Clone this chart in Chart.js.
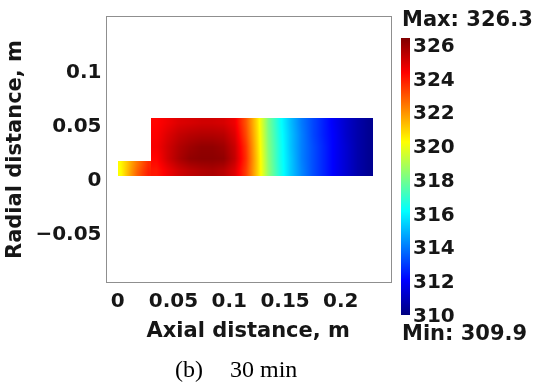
<!DOCTYPE html>
<html>
<head>
<meta charset="utf-8">
<script src="https://cdn.jsdelivr.net/npm/chart.js@4.4.1/dist/chart.umd.min.js"></script>
<style>
  html, body { margin: 0; padding: 0; background: #fff; }
  #wrap { width: 536px; height: 387px; }
</style>
</head>
<body>
<div id="wrap"><canvas id="tempChart" width="536" height="387"></canvas></div>
<script>
// Temperature field (K) after 30 min

const tempMin = 309.9;
const tempMax = 326.3;

// main chamber: axial nodes (m), radial nodes (m), one row of temperatures per radial node
const mainAxial = [0.035, 0.045, 0.055, 0.065, 0.075, 0.085, 0.095, 0.105, 0.115, 0.125,
                   0.135, 0.145, 0.155, 0.165, 0.175, 0.185, 0.195, 0.205, 0.215, 0.225];
const mainRadial = [0.005, 0.016, 0.027, 0.038, 0.049];
const mainTemp = [
  [323.9, 324.5, 325.0, 325.3, 325.5, 325.6, 325.4, 324.8, 323.3, 321.0, 318.4, 316.6, 315.2, 314.1, 313.2, 312.5, 311.8, 311.2, 310.6, 310.2],
  [324.2, 325.0, 325.6, 326.0, 326.1, 326.1, 326.0, 325.2, 323.5, 321.0, 318.3, 316.5, 315.2, 314.0, 313.2, 312.5, 311.8, 311.2, 310.6, 310.2],
  [324.4, 325.0, 325.5, 325.8, 326.0, 326.0, 325.8, 325.1, 323.4, 320.9, 318.2, 316.5, 315.1, 314.0, 313.2, 312.5, 311.8, 311.2, 310.6, 310.2],
  [324.3, 324.8, 325.2, 325.4, 325.5, 325.5, 325.4, 324.8, 323.1, 320.8, 318.1, 316.4, 315.1, 314.0, 313.1, 312.4, 311.8, 311.1, 310.6, 310.2],
  [324.2, 324.5, 324.8, 324.9, 325.0, 325.0, 324.9, 324.5, 322.9, 320.7, 318.0, 316.3, 315.0, 313.9, 313.1, 312.4, 311.7, 311.1, 310.6, 310.2]
];

// inlet pipe
const inletAxial = [0.0025, 0.0075, 0.0125, 0.0175, 0.0225, 0.0275];
const inletRadial = [0.003, 0.011];
const inletTemp = [
  [320.1, 321.0, 321.9, 322.7, 323.3, 323.8],
  [320.2, 320.9, 321.7, 322.4, 323.0, 323.6]
];

const xTicks = [0, 0.05, 0.1, 0.15, 0.2];
const yTicks = [-0.05, 0, 0.05, 0.1];
const barTicks = [310, 312, 314, 316, 318, 320, 322, 324, 326];

// domain outline (m)
const blocks = [
  { x0: 0, x1: 0.0296, y0: 0, y1: 0.0136, ax: inletAxial, rad: inletRadial, temp: inletTemp },
  { x0: 0.0296, x1: 0.229, y0: 0, y1: 0.0536, ax: mainAxial, rad: mainRadial, temp: mainTemp }
];

const textColor = '#161616';
const boldFont = 'DejaVu Sans';

function clamp01(v) { return Math.max(0, Math.min(1, v)); }

function jet(t) {
  t = clamp01(t);
  return [
    Math.round(255 * clamp01(1.5 - Math.abs(4 * t - 3))),
    Math.round(255 * clamp01(1.5 - Math.abs(4 * t - 2))),
    Math.round(255 * clamp01(1.5 - Math.abs(4 * t - 1)))
  ];
}

function locate(nodes, v) {
  const n = nodes.length - 1;
  if (v <= nodes[0]) return [0, 0, 0];
  if (v >= nodes[n]) return [n, n, 0];
  let i = 0;
  while (nodes[i + 1] < v) i++;
  return [i, i + 1, (v - nodes[i]) / (nodes[i + 1] - nodes[i])];
}

function fieldAt(b, xv, yv) {
  const [i0, i1, fx] = locate(b.ax, xv);
  const [j0, j1, fy] = locate(b.rad, yv);
  const lo = b.temp[j0][i0] + (b.temp[j0][i1] - b.temp[j0][i0]) * fx;
  const hi = b.temp[j1][i0] + (b.temp[j1][i1] - b.temp[j1][i0]) * fx;
  return lo + (hi - lo) * fy;
}

// surface plot of the field, shaded through the chart scales
const fieldPlugin = {
  id: 'field',
  beforeDatasetsDraw(chart) {
    const { ctx, scales: { x, y } } = chart;
    blocks.forEach(b => {
      const px0 = Math.round(x.getPixelForValue(b.x0));
      const px1 = Math.round(x.getPixelForValue(b.x1));
      const py0 = Math.round(y.getPixelForValue(b.y1));
      const py1 = Math.round(y.getPixelForValue(b.y0));
      const w = px1 - px0, h = py1 - py0;
      const off = document.createElement('canvas');
      off.width = w; off.height = h;
      const octx = off.getContext('2d');
      const img = octx.createImageData(w, h);
      for (let j = 0; j < h; j++) {
        const yv = y.getValueForPixel(py0 + j + 0.5);
        for (let i = 0; i < w; i++) {
          const xv = x.getValueForPixel(px0 + i + 0.5);
          const c = jet((fieldAt(b, xv, yv) - tempMin) / (tempMax - tempMin));
          const k = (j * w + i) * 4;
          img.data[k] = c[0]; img.data[k + 1] = c[1]; img.data[k + 2] = c[2]; img.data[k + 3] = 255;
        }
      }
      octx.putImageData(img, 0, 0);
      ctx.drawImage(off, px0, py0);
    });
  },
  afterDraw(chart) {
    const { ctx, chartArea: a } = chart;
    ctx.save();
    // frame
    ctx.strokeStyle = '#8f8f8f';
    ctx.lineWidth = 1;
    ctx.strokeRect(Math.round(a.left) + 0.5, Math.round(a.top) + 0.5,
                   Math.round(a.right - a.left) - 1, Math.round(a.bottom - a.top) - 1);

    // colour bar
    const barLeft = 401, barTop = 38, barWidth = 9, barBottom = 315;
    const barH = barBottom - barTop;
    for (let py = barTop; py < barBottom; py++) {
      const v = tempMax - (py + 0.5 - barTop) / barH * (tempMax - tempMin);
      const c = jet((v - tempMin) / (tempMax - tempMin));
      ctx.fillStyle = 'rgb(' + c.join(',') + ')';
      ctx.fillRect(barLeft, py, barWidth, 1);
    }
    ctx.fillStyle = textColor;
    ctx.textAlign = 'left';
    ctx.textBaseline = 'middle';
    ctx.font = 'bold 20px "' + boldFont + '"';
    barTicks.forEach(v => {
      const py = barBottom - (v - tempMin) / (tempMax - tempMin) * barH;
      ctx.fillText(String(v), barLeft + barWidth + 3, py + 3.5);
    });
    ctx.font = 'bold 21px "' + boldFont + '"';
    ctx.fillText('Max: ' + tempMax.toFixed(1), 402, 21);
    ctx.fillText('Min: ' + tempMin.toFixed(1), 402, 335);

    // caption
    ctx.font = '24px "Liberation Serif"';
    ctx.fillStyle = '#000';
    ctx.fillText('(b)', 175, 371);
    ctx.fillText('30 min', 230, 371);
    ctx.restore();
  }
};

function fmt(v) {
  if (v === 0) return '0';
  return (v < 0 ? '\u2212' : '') + String(Math.abs(v));
}

const ctx = document.getElementById('tempChart').getContext('2d');
const chart = new Chart(ctx, {
  type: 'scatter',
  data: { datasets: [] },
  options: {
    responsive: false,
    animation: false,
    devicePixelRatio: 1,
    layout: { padding: { left: 0, top: 11, right: 145, bottom: 30 } },
    plugins: {
      legend: { display: false },
      tooltip: { enabled: false }
    },
    scales: {
      x: {
        type: 'linear',
        min: -0.011,
        max: 0.245,
        grid: { display: false, drawTicks: false },
        border: { display: false },
        afterBuildTicks: scale => { scale.ticks = xTicks.map(v => ({ value: v })); },
        afterFit: scale => { scale.height = 74; },
        ticks: {
          color: textColor,
          font: { family: boldFont, size: 20, weight: 'bold' },
          padding: 7,
          maxRotation: 0,
          autoSkip: false,
          callback: v => fmt(v)
        },
        title: {
          display: true,
          text: 'Axial distance, m',
          color: textColor,
          font: { family: boldFont, size: 21, weight: 'bold' },
          padding: { top: 0, bottom: 13 }
        }
      },
      y: {
        type: 'linear',
        min: -0.099,
        max: 0.148,
        grid: { display: false, drawTicks: false },
        border: { display: false },
        afterBuildTicks: scale => { scale.ticks = yTicks.map(v => ({ value: v })); },
        afterFit: scale => { scale.width = 105.5; },
        ticks: {
          color: textColor,
          font: { family: boldFont, size: 20, weight: 'bold' },
          padding: 4,
          labelOffset: 4.5,
          autoSkip: false,
          callback: v => fmt(v)
        },
        title: {
          display: true,
          text: 'Radial distance, m',
          color: textColor,
          font: { family: boldFont, size: 21, weight: 'bold' },
          padding: { top: 2.5, bottom: 0 }
        }
      }
    }
  },
  plugins: [fieldPlugin]
});
</script>
</body>
</html>
